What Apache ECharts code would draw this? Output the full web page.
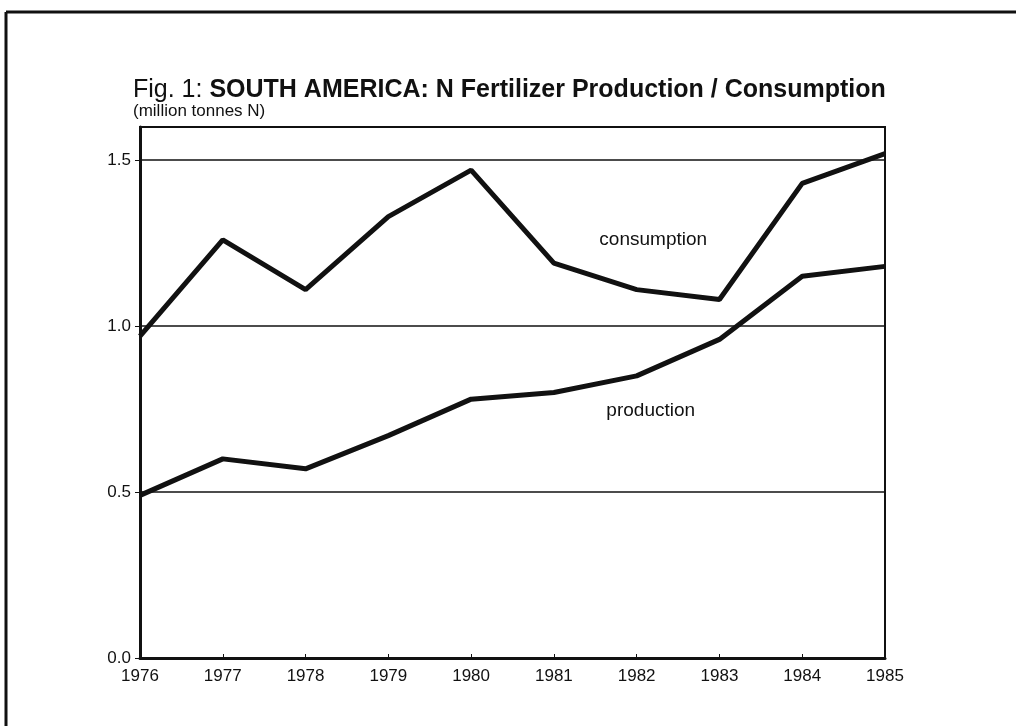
<!DOCTYPE html>
<html>
<head>
<meta charset="utf-8">
<script src="https://cdn.jsdelivr.net/npm/echarts@6/dist/echarts.min.js"></script>
<style>
  html, body { margin: 0; padding: 0; background: #fff; }
  #chart { width: 1016px; height: 726px; }
</style>
</head>
<body>
<div id="chart"></div>
<script>
const years = [1976, 1977, 1978, 1979, 1980, 1981, 1982, 1983, 1984, 1985];
const consumption = [0.97, 1.26, 1.11, 1.33, 1.47, 1.19, 1.11, 1.08, 1.43, 1.52];
const production = [0.49, 0.60, 0.57, 0.67, 0.78, 0.80, 0.85, 0.96, 1.15, 1.18];
const yTicks = [0, 0.5, 1.0, 1.5];

const chart = echarts.init(document.getElementById('chart'), null, { renderer: 'canvas' });

const font = '"Liberation Sans", Arial, sans-serif';

function pairs(values) {
    return years.map((y, i) => [y, values[i]]);
}

const option = {
    backgroundColor: '#fff',
    animation: false,
    title: {
        left: 128,
        top: 72,
        padding: [5, 5, 0, 5],
        text: '{a|Fig. 1: }{b|SOUTH AMERICA: N Fertilizer Production / Consumption}',
        subtext: '(million tonnes N)',
        itemGap: 0,
        textStyle: {
            rich: {
                a: { fontFamily: font, fontSize: 25, fontWeight: 'normal', color: '#111', lineHeight: 27 },
                b: { fontFamily: font, fontSize: 25, fontWeight: 'bold', color: '#111', lineHeight: 27 }
            }
        },
        subtextStyle: { fontFamily: font, fontSize: 17, color: '#111', lineHeight: 18 }
    },
    grid: {
        left: 140,
        right: 131,
        top: 127,
        bottom: 68,
        show: true,
        borderColor: '#111',
        borderWidth: 2,
        backgroundColor: 'transparent'
    },
    xAxis: {
        type: 'value',
        min: 1976,
        max: 1985,
        interval: 1,
        axisLine: { show: true, lineStyle: { color: '#111', width: 3 } },
        axisTick: { show: true, inside: true, length: 4, lineStyle: { color: '#111' } },
        axisLabel: {
            color: '#111', fontFamily: font, fontSize: 17, margin: 10,
            formatter: v => String(v)
        },
        splitLine: { show: false }
    },
    yAxis: {
        type: 'value',
        min: 0,
        max: 1.6,
        interval: 0.5,
        axisLine: { show: true, lineStyle: { color: '#111', width: 3 } },
        axisTick: { show: true, length: 5, lineStyle: { color: '#111' } },
        axisLabel: {
            color: '#111', fontFamily: font, fontSize: 17, margin: 9,
            showMaxLabel: false,
            formatter: v => yTicks.includes(v) ? v.toFixed(1) : ''
        },
        splitLine: { show: true, lineStyle: { color: '#111', width: 1.5 } }
    },
    series: [
        {
            name: 'consumption',
            type: 'line',
            data: pairs(consumption),
            symbol: 'none',
            lineStyle: { color: '#111', width: 5 },
            markPoint: {
                symbol: 'circle',
                symbolSize: 0,
                label: { show: true, formatter: 'consumption', color: '#111', fontFamily: font, fontSize: 19 },
                data: [{ coord: [1982.2, 1.26] }]
            }
        },
        {
            name: 'production',
            type: 'line',
            data: pairs(production),
            symbol: 'none',
            lineStyle: { color: '#111', width: 5 },
            markPoint: {
                symbol: 'circle',
                symbolSize: 0,
                label: { show: true, formatter: 'production', color: '#111', fontFamily: font, fontSize: 19 },
                data: [{ coord: [1982.17, 0.745] }]
            }
        }
    ],
    graphic: [
        { type: 'line', shape: { x1: 6, y1: 12, x2: 1016, y2: 12 }, style: { stroke: '#111', lineWidth: 3 } },
        { type: 'line', shape: { x1: 6, y1: 12, x2: 6, y2: 726 }, style: { stroke: '#111', lineWidth: 3 } }
    ]
};

chart.setOption(option);
</script>
</body>
</html>
